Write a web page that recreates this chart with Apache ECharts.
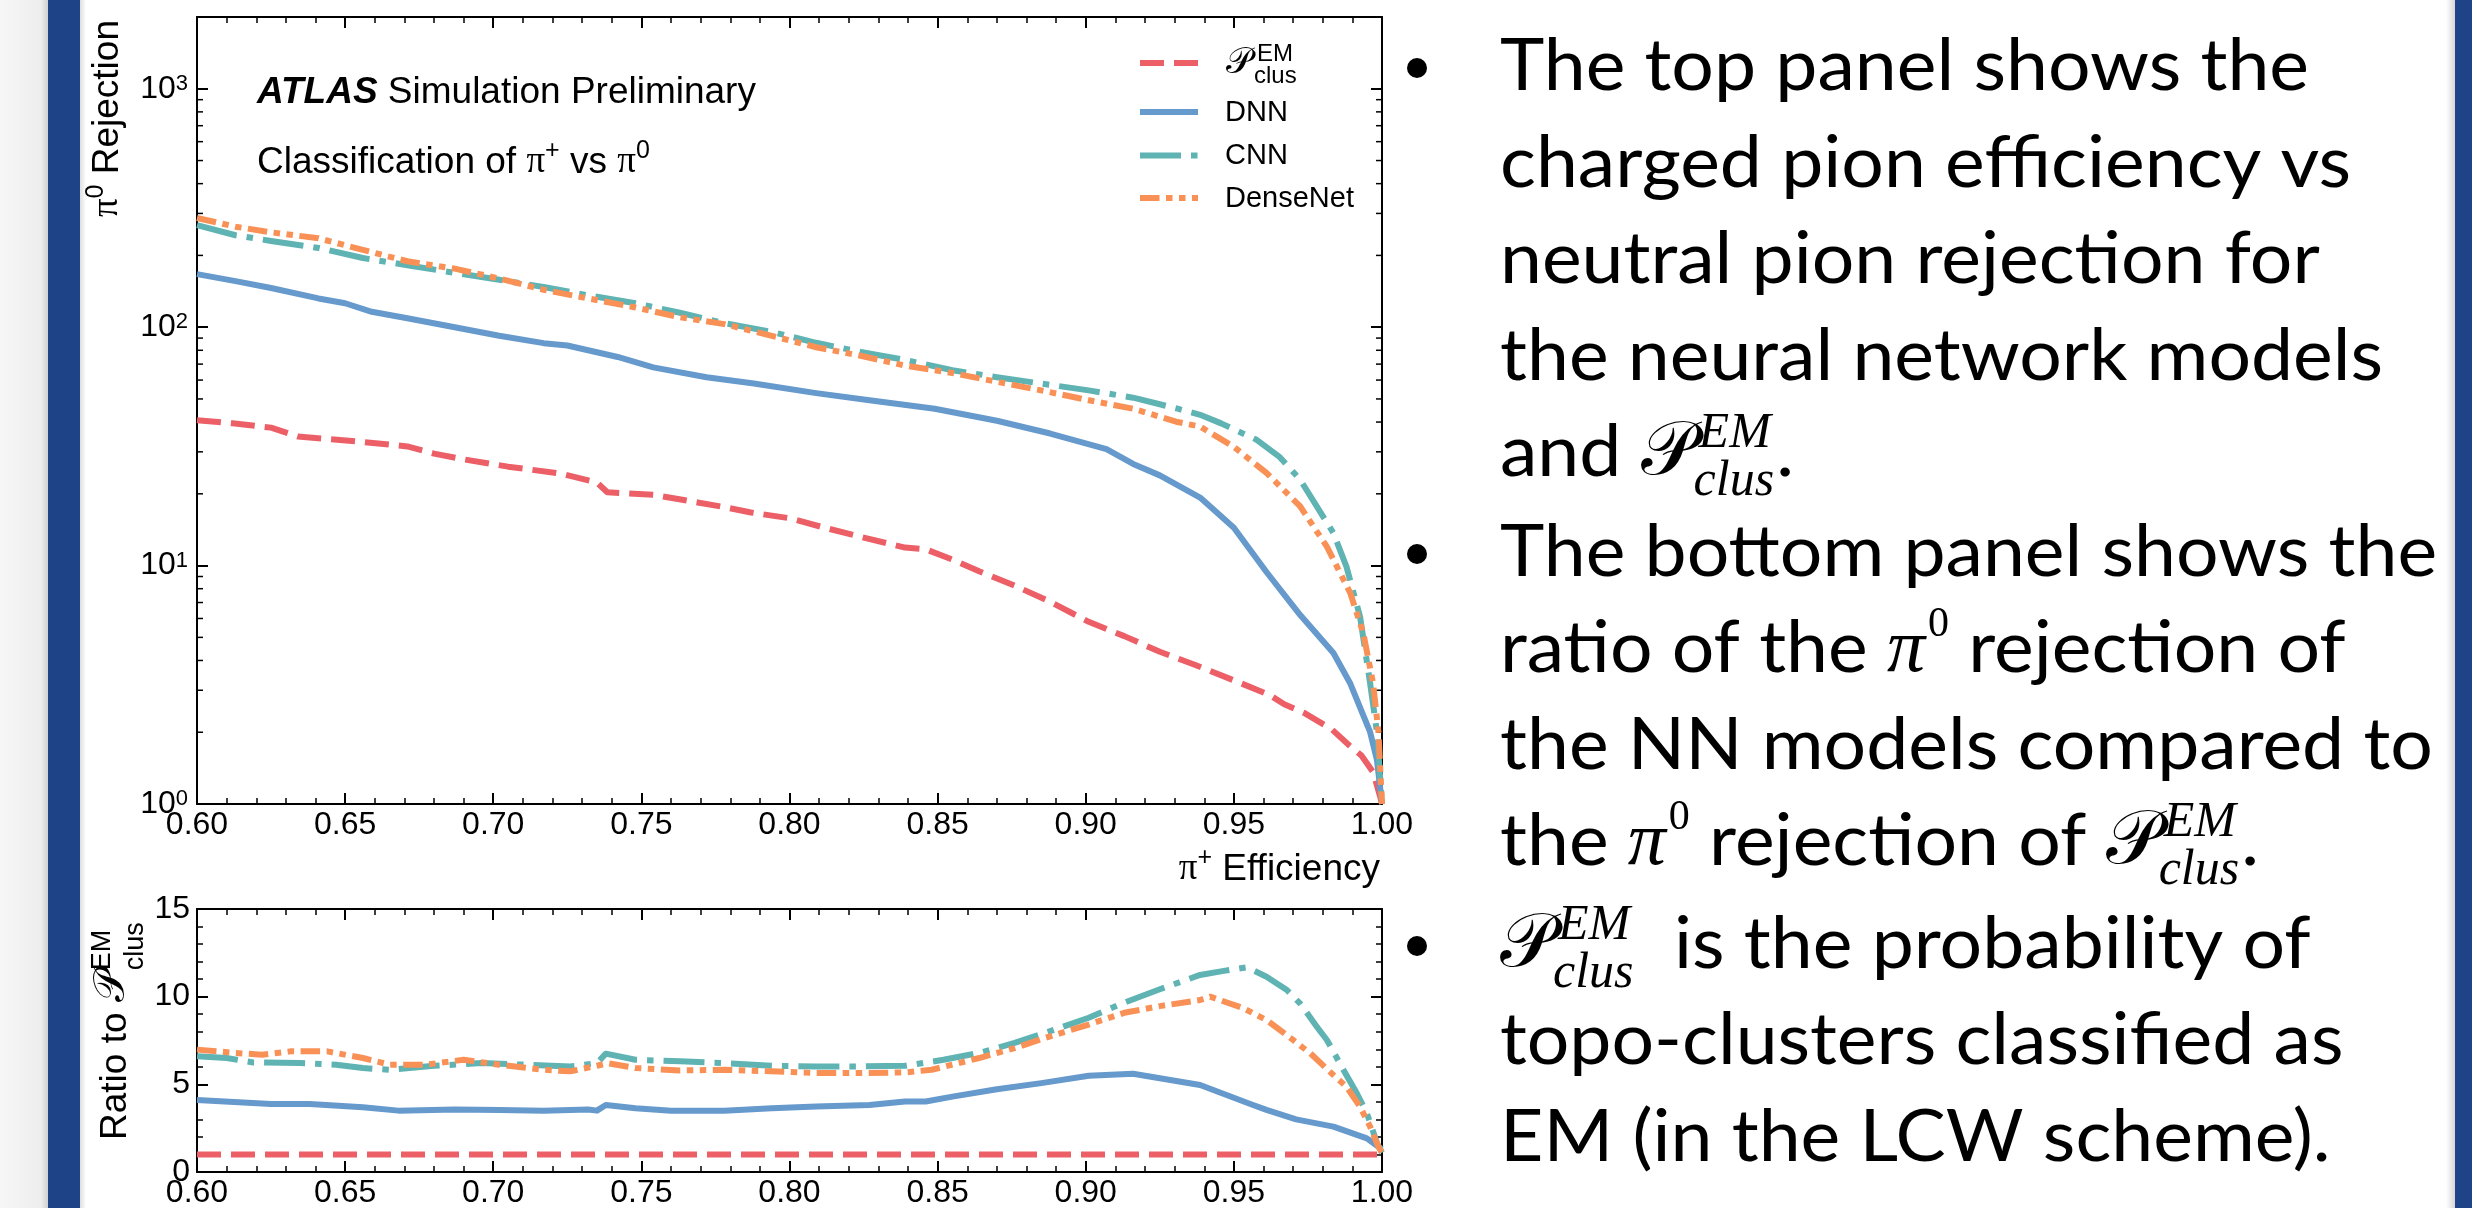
<!DOCTYPE html>
<html><head><meta charset="utf-8">
<script src="https://cdn.jsdelivr.net/npm/echarts@6/dist/echarts.min.js"></script>
<style>html,body{margin:0;padding:0;background:#fff;}#c{width:2472px;height:1208px;}</style>
</head><body><div id="c"></div>
<script>
// ---------------- DATA ----------------
// top panel: pi0 rejection vs pi+ efficiency
const effPclus = [0.600,0.612,0.625,0.634,0.656,0.671,0.680,0.690,0.705,0.723,0.735,0.7385,0.754,0.769,0.778,0.787,0.800,0.812,0.824,0.839,0.846,0.855,0.864,0.876,0.888,0.901,0.913,0.925,0.937,0.950,0.962,0.967,0.974,0.983,0.989,0.993,0.997,0.9995,1.000];
const rejPclus = [40.7,39.5,37.9,34.8,33.0,31.6,29.5,27.9,26.0,24.3,22.3,20.3,19.8,18.4,17.6,16.7,15.8,14.4,13.2,11.9,11.7,10.6,9.46,8.24,7.05,5.81,5.06,4.35,3.83,3.30,2.87,2.62,2.40,2.06,1.76,1.60,1.36,1.06,1.0];
const effDNN = [0.600,0.613,0.625,0.641,0.650,0.659,0.671,0.687,0.702,0.717,0.725,0.742,0.754,0.772,0.788,0.809,0.827,0.849,0.870,0.888,0.907,0.916,0.925,0.9386,0.950,0.961,0.9724,0.9836,0.9893,0.996,0.9983,1.000];
const rejDNN = [167,156,146,132,126,116,109,100,92,85.7,83.8,75,67.8,61.7,58,52.9,49.4,45.5,40.5,35.8,30.8,26.7,23.9,19.3,14.4,9.4,6.2,4.3,3.2,2.0,1.53,1.0];
const effCNN = [0.600,0.613,0.625,0.641,0.656,0.671,0.687,0.702,0.717,0.732,0.748,0.763,0.778,0.794,0.809,0.824,0.839,0.855,0.870,0.885,0.901,0.916,0.931,0.9386,0.9457,0.9577,0.9655,0.9724,0.9836,0.988,0.9926,0.996,0.9983,1.000];
const rejCNN = [268,243,230,215,195,182,169,158,147.5,136,126,115,104,95.6,86,78.8,72.9,66,61.7,58,54.3,50.6,45.5,42.9,39.5,33.7,28.5,22.9,13.7,9.9,6.1,3.2,2.0,1.0];
const effDense = [0.600,0.613,0.625,0.641,0.656,0.671,0.687,0.702,0.717,0.732,0.748,0.763,0.778,0.794,0.809,0.824,0.839,0.855,0.870,0.885,0.901,0.916,0.931,0.9386,0.9498,0.961,0.9724,0.9814,0.9893,0.9937,0.997,0.9988,1.000];
const rejDense = [287,264,250,236,211,189,176,160,143.5,132,121,110,103,92,82.4,75.9,69,64.2,59,54.3,49.4,45.5,40,38.3,31.6,24.5,17.7,12.0,7.66,5.2,3.2,2.0,1.0];
// bottom panel: ratio to P_clus^EM
const effRatioPclus = [0.600,1.000];
const ratioPclus = [1,1];
const effRatioDNN = [0.600,0.625,0.638,0.656,0.668,0.687,0.702,0.717,0.732,0.735,0.738,0.748,0.760,0.778,0.794,0.809,0.827,0.839,0.846,0.855,0.870,0.885,0.901,0.916,0.925,0.9386,0.956,0.961,0.971,0.9836,0.9949,0.998,1.000];
const ratioDNN = [4.11,3.88,3.88,3.69,3.50,3.57,3.54,3.50,3.57,3.50,3.82,3.63,3.50,3.50,3.63,3.73,3.82,4.02,4.02,4.30,4.72,5.07,5.49,5.60,5.35,4.96,3.85,3.54,3.0,2.59,1.92,1.54,1.3];
const effRatioCNN = [0.600,0.610,0.619,0.635,0.647,0.656,0.665,0.680,0.696,0.711,0.726,0.735,0.738,0.748,0.763,0.778,0.794,0.809,0.824,0.839,0.852,0.864,0.876,0.888,0.901,0.913,0.925,0.9386,0.9466,0.9544,0.961,0.9679,0.9724,0.978,0.9814,0.987,0.9915,0.9949,0.9983,1.000];
const ratioCNN = [6.60,6.50,6.25,6.21,6.12,5.93,5.83,6.06,6.21,6.12,6.02,6.21,6.75,6.40,6.31,6.21,6.06,6.02,6.02,6.06,6.40,6.79,7.36,8.03,8.80,9.66,10.42,11.24,11.47,11.68,11.14,10.38,9.6,8.29,7.53,5.82,4.49,3.35,1.65,1.1];
const effRatioDense = [0.600,0.613,0.622,0.6315,0.644,0.656,0.665,0.677,0.690,0.702,0.717,0.726,0.735,0.7385,0.748,0.763,0.778,0.794,0.809,0.824,0.839,0.848,0.864,0.876,0.888,0.901,0.913,0.925,0.9386,0.942,0.9532,0.961,0.970,0.9758,0.9836,0.988,0.9926,0.996,0.9988,1.000];
const ratioDense = [6.98,6.79,6.69,6.88,6.88,6.50,6.12,6.12,6.40,6.12,5.83,5.74,6.06,6.21,5.93,5.79,5.83,5.74,5.64,5.64,5.68,5.83,6.50,7.07,7.74,8.41,9.08,9.46,9.81,10.0,9.34,8.67,7.53,6.77,5.53,4.87,3.72,2.58,1.44,1.1];
const seriesNames = ['P_clus^EM','DNN','CNN','DenseNet'];
const xTicks = {min:0.6, max:1.0, step:0.05};
const ratioTicks = {min:0, max:15, step:5};
const logRange = {min:1, max:2000};

// ---------------- STYLE / HELPERS ----------------
const C_RED='#ec5f67', C_BLUE='#6699cc', C_TEAL='#5fb3b3', C_ORANGE='#f99157';
const COLORS=[C_RED,C_BLUE,C_TEAL,C_ORANGE];
const DASHES=[[24,10],null,[41,10,6.5,10],[19.5,6.5,6.5,6.5,6.5,6.5]];
const SANS="'Liberation Sans', Arial, Helvetica, sans-serif";
const SERIF="'Liberation Serif', 'Times New Roman', serif";
const BODY="Lato, 'Open Sans', sans-serif";
const SCRIPT_FAM="'DejaVu Serif', 'DejaVu Sans', 'Noto Sans', serif";

const mctx=document.createElement('canvas').getContext('2d');
function fnt(sz,fam,w,s){return (s||'normal')+' '+(w||'normal')+' '+sz+'px '+fam;}
function tw(t,sz,fam,w,s){mctx.font=fnt(sz,fam,w,s);return mctx.measureText(t).width;}
function mid(sz,fam,w,s){mctx.font=fnt(sz,fam,w,s);mctx.textBaseline='alphabetic';const m=mctx.measureText('Hg');
  if(m.fontBoundingBoxAscent===undefined)return sz*0.35;return (m.fontBoundingBoxAscent-m.fontBoundingBoxDescent)/2;}
function T(x,base,text,sz,fam,o){o=o||{};const el={type:'text',x:x,y:base-mid(sz,fam,o.w,o.s),z:100,silent:true,
  style:{text:text,fontSize:sz,fontFamily:fam,fontWeight:o.w||'normal',fontStyle:o.s||'normal',fill:o.fill||'#000',align:o.align||'left',verticalAlign:'middle'}};
  if(o.sx){el.scaleX=o.sx;} return el;}

const hasScript = Math.abs(tw('\u{1D4AB}',50,SCRIPT_FAM)-tw('\u{10FFFD}',50,SCRIPT_FAM))>0.5;
const PCH = hasScript?'\u{1D4AB}':'P', PFAM = hasScript?SCRIPT_FAM:SERIF, PSTY = hasScript?'normal':'italic';

const G=[];
// page decorations
G.push({type:'rect',shape:{x:0,y:0,width:48,height:1208},z:-10,silent:true,style:{fill:{type:'linear',x:0,y:0,x2:1,y2:0,colorStops:[{offset:0,color:'#f6f6f6'},{offset:0.85,color:'#eeeeee'},{offset:1,color:'#cfcfcf'}]}}});
G.push({type:'rect',shape:{x:48,y:0,width:32,height:1208},z:-10,silent:true,style:{fill:'#1f4387'}});
G.push({type:'rect',shape:{x:80,y:0,width:6,height:1208},z:-10,silent:true,style:{fill:{type:'linear',x:0,y:0,x2:1,y2:0,colorStops:[{offset:0,color:'#dedede'},{offset:1,color:'#ffffff'}]}}});
G.push({type:'rect',shape:{x:2446,y:0,width:9,height:1208},z:-10,silent:true,style:{fill:{type:'linear',x:0,y:0,x2:1,y2:0,colorStops:[{offset:0,color:'#ffffff'},{offset:1,color:'#d6d6d6'}]}}});
G.push({type:'rect',shape:{x:2455,y:0,width:17,height:1208},z:-10,silent:true,style:{fill:'#1f4387'}});
// red title remnant (descender of a cut-off title letter)
G.push(T(1743,-19,'p',140,SERIF,{w:'bold',fill:'#ff0000'}));

// plot annotations
(function(){
  let x=257;
  G.push(T(x,105,'ATLAS',37,SANS,{w:'bold',s:'italic'})); x+=tw('ATLAS',37,SANS,'bold','italic')+tw(' ',37,SANS);
  G.push(T(x,105,'Simulation Preliminary',37,SANS));
  x=257; const b=175;
  const seq=[['Classification of ',37,SANS,0],['π',37,SERIF,0],['+',25,SANS,-15],[' vs ',37,SANS,0],['π',37,SERIF,0],['0',25,SANS,-15]];
  seq.forEach(p=>{G.push(T(x,b+p[3],p[0],p[1],p[2])); x+=tw(p[0],p[1],p[2]);});
  // x-axis title, right aligned at 1380
  const xt=[['π',37,SERIF,0],['+',25,SANS,-15],[' Efficiency',37,SANS,0]];
  let tot=xt.reduce((a,p)=>a+tw(p[0],p[1],p[2]),0); x=1380-tot;
  xt.forEach(p=>{G.push(T(x,882+p[3],p[0],p[1],p[2])); x+=tw(p[0],p[1],p[2]);});
  // top y title (rotated)
  const yt=[['π',37,SERIF,0],['0',25,SANS,-15],[' Rejection',37,SANS,0]];
  tot=yt.reduce((a,p)=>a+tw(p[0],p[1],p[2]),0);
  const ch=[]; x=0; yt.forEach(p=>{ch.push(T(x,p[3],p[0],p[1],p[2])); x+=tw(p[0],p[1],p[2]);});
  G.push({type:'group',x:120,y:20+tot,rotation:Math.PI/2,children:ch});
  // bottom y title (rotated)
  const ch2=[]; x=0;
  ch2.push(T(x,0,'Ratio to ',37,SANS)); x+=tw('Ratio to ',37,SANS);
  ch2.push(T(x,0,PCH,44,PFAM,{s:PSTY})); x+=tw(PCH,44,PFAM,null,PSTY);
  ch2.push(T(x,-16,'EM',27,SANS)); ch2.push(T(x,17,'clus',27,SANS));
  G.push({type:'group',x:128,y:1140,rotation:Math.PI/2,children:ch2});
  // legend (handles + labels)
  const rowY=[63,112,155.5,198];
  rowY.forEach((y,i)=>{
    const st={stroke:COLORS[i],lineWidth:6,lineCap:'butt'}; if(DASHES[i])st.lineDash=DASHES[i];
    G.push({type:'line',silent:true,z:100,shape:{x1:1140,y1:y,x2:1198,y2:y},style:st});
    if(i>0) G.push(T(1225,y+10.5,seriesNames[i],29,SANS));
  });
  G.push(T(1226,76,PCH,36,PFAM,{s:PSTY}));
  G.push(T(1257,63,'EM',24,SANS));
  G.push(T(1254,85,'clus',24,SANS));
})();

// right-hand text block
(function(){
  const BODY_SZ=72;
  const PC={m:'pclus'}, PI={m:'pi0'};
  const lines=[
    ['The top panel shows the'],
    ['charged pion efficiency vs'],
    ['neutral pion rejection for'],
    ['the neural network models'],
    ['and ',PC,'.'],
    ['The bottom panel shows the'],
    ['ratio of the ',PI,' rejection of'],
    ['the NN models compared to'],
    ['the ',PI,' rejection of ',PC,'.'],
    [PC,'  is the probability of'],
    ['topo-clusters classified as'],
    ['EM (in the LCW scheme).']
  ];
  const bases=[95,192,288,385,481,581,677,774,870,973,1069,1166];
  const sx=809/tw('The top panel shows the',BODY_SZ,BODY);
  const X0=1500;
  lines.forEach((parts,i)=>{
    const b=bases[i]; let x=X0;
    parts.forEach(p=>{
      if(typeof p==='string'){G.push(T(x,b,p,BODY_SZ,BODY,{sx:sx})); x+=tw(p,BODY_SZ,BODY)*sx;}
      else if(p.m==='pclus'){
        G.push(T(x,b,PCH,76,PFAM,{s:PSTY})); x+=tw(PCH,76,PFAM,null,PSTY);
        G.push(T(x+3,b-30,'EM',50,SERIF,{s:'italic'}));
        G.push(T(x-2,b+18,'clus',50,SERIF,{s:'italic'}));
        x+=Math.max(tw('EM',50,SERIF,null,'italic')+3,tw('clus',50,SERIF,null,'italic')-2)+2;
      } else {
        G.push(T(x,b,'π',76,SERIF,{s:'italic'})); x+=tw('π',76,SERIF,null,'italic')+3;
        G.push(T(x,b-38,'0',42,SERIF)); x+=tw('0',42,SERIF);
      }
    });
  });
  [0,5,9].forEach(i=>G.push({type:'circle',shape:{cx:1417,cy:bases[i]-27,r:10},silent:true,z:100,style:{fill:'#000'}}));
})();

// ---------------- CHART ----------------
function pairs(xs,ys){return xs.map((x,i)=>[x,ys[i]]);}
const AX='#000';
function xAx(grid,pos,labels){return {type:'value',gridIndex:grid,position:pos,min:xTicks.min,max:xTicks.max,interval:xTicks.step,
  axisLine:{show:true,onZero:false,lineStyle:{color:AX,width:2}},
  axisTick:{show:true,inside:true,length:11,lineStyle:{color:AX,width:2}},
  minorTick:{show:true,splitNumber:5,length:6,lineStyle:{color:AX,width:1.5}},
  splitLine:{show:false},minorSplitLine:{show:false},
  axisLabel:{show:labels,fontSize:32,fontFamily:SANS,color:'#000',margin:5,showMinLabel:true,showMaxLabel:true,formatter:v=>v.toFixed(2)}};}
function logAx(pos,labels){return {type:'log',logBase:10,gridIndex:0,position:pos,min:logRange.min,max:logRange.max,
  axisLine:{show:true,onZero:false,lineStyle:{color:AX,width:2}},
  axisTick:{show:true,inside:true,length:11,lineStyle:{color:AX,width:2}},
  minorTick:{show:false},splitLine:{show:false},
  axisLabel:{show:labels,fontSize:32,fontFamily:SANS,color:'#000',margin:9,
    formatter:v=>{const e=Math.log10(v);if(Math.abs(e-Math.round(e))>1e-6)return '';return '10{s|'+Math.round(e)+'}';},
    rich:{s:{fontSize:22,lineHeight:18,verticalAlign:'top',fontFamily:SANS,color:'#000'}}}};}
function ratioAx(pos,labels){return {type:'value',gridIndex:1,position:pos,min:ratioTicks.min,max:ratioTicks.max,interval:ratioTicks.step,
  axisLine:{show:true,onZero:false,lineStyle:{color:AX,width:2}},
  axisTick:{show:true,inside:true,length:11,lineStyle:{color:AX,width:2}},
  minorTick:{show:true,splitNumber:5,length:6,lineStyle:{color:AX,width:1.5}},
  splitLine:{show:false},minorSplitLine:{show:false},
  axisLabel:{show:labels,fontSize:32,fontFamily:SANS,color:'#000',margin:7}};}

function lineS(i,xi,yi,data){const dash=DASHES[i]||'solid';return {type:'line',name:seriesNames[i],xAxisIndex:xi,yAxisIndex:yi,data:data,symbol:'none',showSymbol:false,
  smooth:false,clip:true,silent:true,lineStyle:{color:COLORS[i],width:6,type:dash,cap:'butt',join:'round'},itemStyle:{color:COLORS[i]},emphasis:{disabled:true}};}

// log minor tick positions (axis decoration)
const minorLog=[];
for(let k=0;k<4;k++)for(let m=2;m<=9;m++){const v=m*Math.pow(10,k);if(v<logRange.max)minorLog.push([xTicks.min,v]);}

const option={
  animation:false,
  backgroundColor:'#ffffff',
  grid:[{left:197,top:17,width:1185,height:787,containLabel:false,outerBoundsMode:'none'},
        {left:197,top:909,width:1185,height:263,containLabel:false,outerBoundsMode:'none'}],
  xAxis:[xAx(0,'bottom',true),xAx(0,'top',false),xAx(1,'bottom',true),xAx(1,'top',false)],
  yAxis:[logAx('left',true),logAx('right',false),ratioAx('left',true),ratioAx('right',false)],
  legend:{show:false},
  graphic:{elements:G},
  series:[
    {type:'custom',xAxisIndex:0,yAxisIndex:0,silent:true,data:minorLog,z:1,
      renderItem:(params,api)=>{const v=api.value(1);const pL=api.coord([xTicks.min,v]);const pR=api.coord([xTicks.max,v]);
        return {type:'group',children:[
          {type:'line',shape:{x1:pL[0],y1:pL[1],x2:pL[0]+6,y2:pL[1]},style:{stroke:'#000',lineWidth:1.5}},
          {type:'line',shape:{x1:pR[0],y1:pR[1],x2:pR[0]-6,y2:pR[1]},style:{stroke:'#000',lineWidth:1.5}}]};}},
    lineS(0,0,0,pairs(effPclus,rejPclus)),
    lineS(1,0,0,pairs(effDNN,rejDNN)),
    lineS(2,0,0,pairs(effCNN,rejCNN)),
    lineS(3,0,0,pairs(effDense,rejDense)),
    lineS(0,2,2,pairs(effRatioPclus,ratioPclus)),
    lineS(1,2,2,pairs(effRatioDNN,ratioDNN)),
    lineS(2,2,2,pairs(effRatioCNN,ratioCNN)),
    lineS(3,2,2,pairs(effRatioDense,ratioDense))
  ]
};
const chart=echarts.init(document.getElementById('c'),null,{renderer:'canvas',width:2472,height:1208});
chart.setOption(option);
</script></body></html>
